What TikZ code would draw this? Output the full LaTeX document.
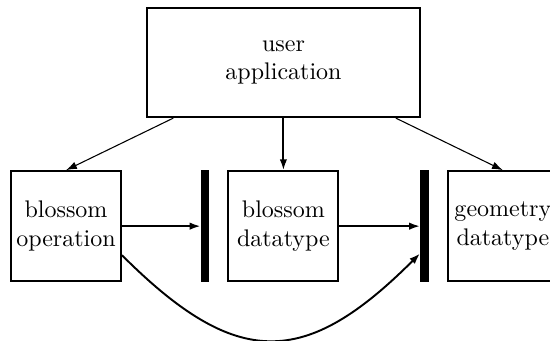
\documentclass[tikz,border=0pt]{standalone}
\usetikzlibrary{positioning,arrows.meta}

\begin{document}
\begin{tikzpicture}[
	node distance=11.8mm,
	box/.style={
		draw,
		thick,
		minimum width=16.1mm,
		minimum height=16.1mm,
		align=center,
		inner sep=0.5mm,
	},
	bar/.style={
		fill=black,
		minimum width=1.2mm,
		minimum height=16.3mm,
		inner sep=0pt,
	},
	arr/.style={-{Latex[length=1.6mm,width=1.1mm]}, thick},
	thinarr/.style={-{Latex[length=1.6mm,width=1.1mm]}, semithin},
	curv/.style={-{Latex[length=1.6mm,width=1.1mm]}, thick},
	semithin/.style={line width=0.45pt},
]
\useasboundingbox (0,0) rectangle (80.5mm,-49.9mm);

% upper row
\node[box, minimum width=40mm, minimum height=16mm] (user) at (41.5mm,-9.15mm) {user\\application};

% lower row, left to right
\node[box] (blossomop) at (9.66mm,-33.1mm) {blossom\\operation};
\node[bar, right=11.5mm of blossomop] (barA) {};
\node[box, right=2.6mm of barA] (blossomdt) {blossom\\datatype};
\node[bar, right=11.8mm of blossomdt] (barB) {};
\node[box, right=2.6mm of barB] (geomdt) {geometry\\datatype};

% from the application down
\draw[thinarr] ([xshift=4mm]user.south west) -- (blossomop.north);
\draw[arr] (user.south -| blossomdt.north) -- (blossomdt.north);
\draw[thinarr] ([xshift=-3.7mm]user.south east) -- (geomdt.north);

% into the bars
\draw[arr] (blossomop.east) -- (barA.west);
\draw[arr] (blossomdt.east) -- (barB.west);
\draw[curv] ([yshift=-4.25mm]blossomop.east) .. controls +(16.8mm,-16.8mm) and +(-16.8mm,-16.8mm) .. ([yshift=-4mm]barB.west);

\end{tikzpicture}
\end{document}
